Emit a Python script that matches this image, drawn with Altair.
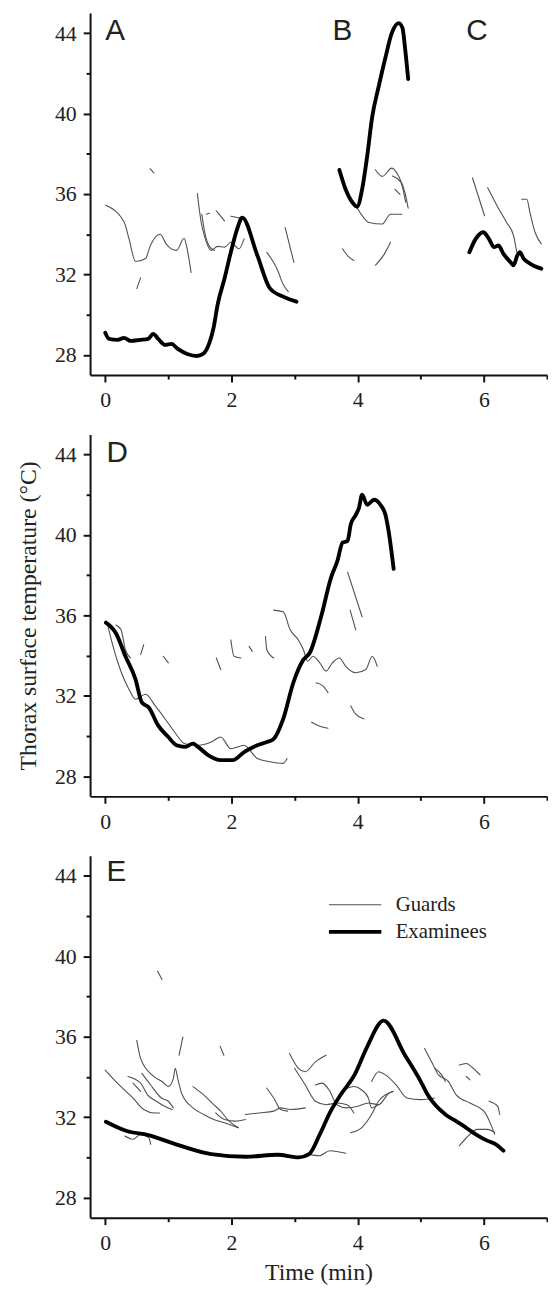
import altair as alt
import pandas as pd

X_DOMAIN = [-0.24, 7]
Y_DOMAIN = [27, 45]
x_tick_values = [0, 1, 2, 3, 4, 5, 6, 7]
y_tick_values = [28, 30, 32, 34, 36, 38, 40, 42, 44]
groups = ["Guards", "Examinees"]
x_title = "Time (min)"
y_title = "Thorax surface temperature (°C)"

# ---------- Panels A, B, C (top) ----------
exam_A = [(0.0, 29.1), (0.06, 28.8), (0.2, 28.75), (0.3, 28.85), (0.4, 28.7), (0.55, 28.75),
          (0.68, 28.8), (0.76, 29.05), (0.84, 28.8), (0.95, 28.5), (1.05, 28.55), (1.15, 28.3),
          (1.3, 28.05), (1.45, 27.95), (1.55, 28.05), (1.65, 28.6), (1.72, 29.4), (1.78, 30.49),
          (1.89, 31.8), (1.99, 33.11), (2.09, 34.26), (2.17, 34.83), (2.41, 32.95), (2.61, 31.31),
          (2.82, 30.9), (3.03, 30.65)]
exam_B = [(3.71, 37.2), (3.81, 36.23), (3.92, 35.57), (3.99, 35.37), (4.07, 36.23), (4.15, 37.87),
          (4.23, 39.84), (4.33, 41.31), (4.44, 42.79), (4.54, 44.0), (4.65, 44.5), (4.71, 44.26),
          (4.75, 43.28), (4.80, 41.72)]
exam_C = [(5.77, 33.11), (5.87, 33.77), (5.99, 34.1), (6.08, 33.77), (6.16, 33.36), (6.23, 33.44),
          (6.31, 33.03), (6.42, 32.62), (6.47, 32.46), (6.53, 32.95), (6.57, 33.11), (6.63, 32.79),
          (6.73, 32.54), (6.91, 32.29)]

guards_top = [
    [(0.01, 35.44), (0.30, 34.6), (0.375, 33.8), (0.48, 32.65), (0.64, 32.8), (0.71, 33.4),
     (0.87, 34.0), (0.97, 33.5), (1.13, 33.2), (1.25, 33.8), (1.29, 33.4), (1.36, 32.1)],
    [(0.71, 37.26), (0.77, 37.05)],
    [(0.50, 31.3), (0.56, 31.83)],
    [(1.46, 36.03), (1.52, 34.6), (1.57, 33.93), (1.68, 33.2), (1.78, 33.4), (1.89, 33.36),
     (1.99, 33.6), (2.12, 33.28), (2.2, 33.77)],
    [(1.53, 35.0), (1.57, 34.2), (1.65, 33.4), (1.73, 33.2)],
    [(1.6, 35.0), (1.65, 35.05)],
    [(1.76, 35.16), (1.89, 34.67)],
    [(1.99, 34.9), (2.15, 34.8)],
    [(2.56, 33.1), (2.72, 32.3), (2.82, 31.5), (2.90, 31.15)],
    [(2.85, 34.34), (2.99, 32.6)],
    [(3.99, 35.32), (4.18, 34.59), (4.39, 34.51), (4.52, 35.0), (4.70, 35.0)],
    [(4.28, 37.21), (4.39, 36.88), (4.54, 37.29), (4.65, 36.88), (4.75, 36.06), (4.80, 35.3)],
    [(4.55, 36.9), (4.68, 36.6), (4.76, 35.6)],
    [(4.59, 36.23), (4.67, 35.98)],
    [(3.76, 33.28), (3.85, 32.9), (3.94, 32.7)],
    [(4.28, 32.46), (4.42, 33.0), (4.52, 33.6)],
    [(5.82, 36.8), (6.01, 34.92)],
    [(6.06, 36.31), (6.21, 35.41), (6.36, 34.59), (6.47, 33.93), (6.52, 33.11)],
    [(6.6, 35.74), (6.68, 35.74), (6.73, 35.08), (6.81, 34.1), (6.91, 33.52)],
]

# ---------- Panel D (middle) ----------
exam_D = [(0.01, 35.64), (0.17, 35.11), (0.32, 33.97), (0.48, 32.82), (0.58, 31.67), (0.69, 31.42),
          (0.84, 30.52), (1.0, 29.95), (1.13, 29.54), (1.26, 29.46), (1.39, 29.62), (1.47, 29.46),
          (1.63, 29.05), (1.83, 28.8), (2.02, 28.8), (2.2, 29.2), (2.41, 29.54), (2.56, 29.7),
          (2.67, 29.86), (2.82, 30.85), (2.98, 32.65), (3.14, 33.8), (3.24, 34.13), (3.42, 35.93),
          (3.58, 37.9), (3.68, 38.72), (3.76, 39.62), (3.84, 39.7), (3.89, 40.52), (3.97, 41.0),
          (4.02, 41.34), (4.07, 42.0), (4.15, 41.5), (4.26, 41.75), (4.36, 41.5), (4.44, 41.0),
          (4.49, 40.19), (4.57, 38.31)]
guards_D = [
    [(0.04, 35.52), (0.11, 34.62), (0.22, 33.47), (0.375, 32.33), (0.48, 31.83), (0.64, 32.08),
     (0.79, 31.51), (0.95, 30.85), (1.1, 30.19), (1.26, 29.62), (1.47, 29.54), (1.68, 29.7),
     (1.83, 29.95), (1.99, 29.37), (2.2, 29.54), (2.41, 28.88), (2.61, 28.72), (2.82, 28.64),
     (2.88, 28.88)],
    [(0.17, 35.52), (0.25, 35.28), (0.32, 34.29), (0.40, 33.88)],
    [(0.56, 34.05), (0.61, 34.54)],
    [(0.92, 33.97), (1.0, 33.64)],
    [(1.76, 33.88), (1.83, 33.31)],
    [(1.99, 34.78), (2.04, 33.97), (2.15, 33.88)],
    [(2.28, 34.46), (2.33, 34.21)],
    [(2.54, 34.95), (2.56, 34.29), (2.67, 33.88)],
    [(2.67, 36.26), (2.82, 36.18), (2.93, 35.28), (3.06, 34.78), (3.14, 34.29), (3.21, 33.72),
     (3.29, 33.97), (3.40, 33.64), (3.5, 33.23), (3.6, 33.64), (3.71, 33.88), (3.81, 33.47),
     (3.97, 33.15), (4.13, 33.31), (4.23, 33.97), (4.31, 33.47)],
    [(3.84, 38.15), (4.07, 35.93)],
    [(3.88, 36.26), (3.97, 35.28)],
    [(3.34, 32.65), (3.45, 32.49), (3.53, 32.16)],
    [(3.27, 30.69), (3.40, 30.49), (3.53, 30.39)],
    [(3.89, 31.5), (3.97, 31.09), (4.10, 30.85)],
]

# ---------- Panel E (bottom) ----------
exam_E = [(0.01, 31.77), (0.34, 31.31), (0.68, 31.11), (1.12, 30.65), (1.68, 30.16), (2.23, 30.03),
          (2.73, 30.13), (3.07, 30.0), (3.23, 30.16), (3.40, 31.14), (3.57, 32.29), (3.73, 33.11),
          (3.95, 34.1), (4.15, 35.5), (4.41, 36.8), (4.75, 35.08), (5.0, 33.77), (5.11, 33.11),
          (5.39, 32.13), (5.56, 31.8), (5.72, 31.47), (5.89, 31.11), (6.06, 30.82), (6.19, 30.65),
          (6.31, 30.33)]
guards_E = [
    [(0.83, 39.26), (0.90, 38.85)],
    [(1.17, 35.08), (1.23, 35.98)],
    [(1.82, 35.53), (1.88, 35.08)],
    [(0.5, 35.82), (0.56, 34.92), (0.74, 34.1), (0.9, 33.77), (1.0, 33.52), (1.08, 33.93),
     (1.11, 34.43), (1.15, 33.9), (1.22, 33.11), (1.39, 32.46), (1.56, 32.13), (1.72, 31.88),
     (1.89, 31.72), (2.11, 31.47)],
    [(0.0, 34.34), (0.22, 33.6), (0.44, 32.95), (0.61, 32.38), (0.78, 32.21), (0.86, 32.21)],
    [(0.36, 34.02), (0.56, 33.69), (0.67, 33.11), (0.81, 32.79), (0.94, 32.54), (1.06, 32.38)],
    [(0.44, 33.69), (0.56, 33.28)],
    [(0.58, 34.18), (0.72, 33.6), (0.89, 32.95), (1.0, 32.79), (1.08, 32.46)],
    [(1.39, 33.52), (1.56, 33.11), (1.72, 32.62), (1.83, 32.3), (1.94, 31.88), (2.11, 31.47)],
    [(0.31, 31.06), (0.44, 30.9), (0.56, 31.14), (0.69, 30.98), (0.72, 30.65)],
    [(1.75, 32.21), (1.89, 31.88), (2.06, 31.8), (2.22, 31.88)],
    [(2.22, 32.13), (2.44, 32.21), (2.67, 32.3), (2.78, 32.46), (2.94, 32.38), (3.17, 32.46)],
    [(2.56, 33.44), (2.67, 32.95), (2.78, 32.38), (2.89, 32.3)],
    [(2.92, 35.16), (3.06, 34.43), (3.17, 34.26), (3.33, 34.75), (3.5, 35.08)],
    [(3.0, 34.43), (3.17, 33.6), (3.33, 32.79), (3.5, 32.62), (3.67, 32.7), (3.83, 32.62),
     (3.94, 32.21)],
    [(3.33, 33.6), (3.44, 33.69), (3.56, 33.28), (3.67, 32.62), (3.83, 32.46), (4.0, 32.54),
     (4.17, 32.7), (4.33, 32.62), (4.5, 33.2), (4.56, 33.28)],
    [(3.22, 30.16), (3.39, 30.08), (3.56, 30.33), (3.81, 30.2)],
    [(3.83, 33.44), (3.94, 33.52), (4.06, 33.36), (4.17, 32.95), (4.22, 32.46), (4.33, 32.62)],
    [(3.89, 31.23), (4.06, 31.47), (4.22, 32.13), (4.33, 32.79), (4.44, 33.11), (4.56, 33.28)],
    [(4.22, 33.77), (4.33, 34.26), (4.44, 34.1), (4.61, 33.6), (4.78, 32.95), (5.0, 32.87),
     (5.22, 32.95)],
    [(5.06, 35.41), (5.17, 34.75), (5.28, 34.1), (5.44, 33.77), (5.56, 33.11), (5.78, 32.7),
     (6.0, 32.3), (6.11, 31.64), (6.17, 31.15)],
    [(5.22, 34.43), (5.33, 34.1), (5.39, 33.77)],
    [(5.61, 34.59), (5.72, 34.67), (5.83, 34.43), (5.94, 34.1)],
    [(5.72, 34.02), (5.78, 33.85)],
    [(6.08, 32.79), (6.22, 32.54), (6.25, 32.13)],
    [(5.61, 30.57), (5.78, 31.15), (5.89, 31.39), (6.06, 31.39), (6.17, 31.23)],
]

# panel letters: (label, time, temperature at the top of the letter box)
labels_top = [("A", 0.0, 44.86), ("B", 3.6, 44.86), ("C", 5.72, 44.86)]
labels_mid = [("D", 0.02, 44.82)]
labels_bot = [("E", 0.02, 44.92)]

PANEL_W = 462
PANEL_H = 366
SERIF = "Liberation Serif, Times New Roman, serif"


def build_df(exam_segs, guard_segs):
    rows = []
    for i, seg in enumerate(guard_segs):
        for t, v in seg:
            rows.append({"t": t, "temp": v, "grp": "Guards", "seg": f"g{i}"})
    for i, seg in enumerate(exam_segs):
        for t, v in seg:
            rows.append({"t": t, "temp": v, "grp": "Examinees", "seg": f"e{i}"})
    return pd.DataFrame(rows)


def make_panel(exam_segs, guard_segs, letters, show_legend=False, ytitle=None, xtitle=None):
    df = build_df(exam_segs, guard_segs)
    xaxis = alt.Axis(
        values=x_tick_values, format="d",
        labelExpr="datum.value % 2 === 0 ? datum.label : ''",
        tickSize={"condition": {"test": "datum.value % 2 === 0", "value": 7}, "value": 4},
        labelPadding=8, labelFont=SERIF, labelFontSize=22, labelColor="#222",
        title=xtitle, titlePadding=8, titleFont=SERIF, titleFontSize=24,
        titleFontWeight="normal", titleColor="#222",
    )
    yaxis = alt.Axis(
        values=y_tick_values, format="d",
        labelExpr="datum.value % 4 === 0 ? datum.label : ''",
        tickSize={"condition": {"test": "datum.value % 4 === 0", "value": 7}, "value": 4},
        labelPadding=7, labelFont=SERIF, labelFontSize=22, labelColor="#222",
        title=ytitle, titlePadding=14, titleFont=SERIF, titleFontSize=24,
        titleFontWeight="normal", titleColor="#222",
    )
    x = alt.X("t:Q", scale=alt.Scale(domain=X_DOMAIN, nice=False, zero=False), axis=xaxis)
    y = alt.Y("temp:Q", scale=alt.Scale(domain=Y_DOMAIN, nice=False, zero=False), axis=yaxis)
    if show_legend:
        legend = alt.Legend(
            orient="none", legendX=257, legendY=39, title=None,
            symbolType="M-3,0H3", symbolSize=312, labelOffset=30, rowPadding=6, padding=0,
            labelFont=SERIF, labelFontSize=21, labelColor="#222",
        )
    else:
        legend = None
    lines = alt.Chart(df).mark_line(interpolate="monotone", strokeCap="round", strokeJoin="round").encode(
        x=x,
        y=y,
        color=alt.Color("grp:N", scale=alt.Scale(domain=groups, range=["#505050", "#000000"]), legend=legend),
        strokeWidth=alt.StrokeWidth("grp:N", scale=alt.Scale(domain=groups, range=[1.1, 3.9]), legend=legend),
        detail="seg:N",
    )
    ldf = pd.DataFrame(letters, columns=["label", "t", "temp"])
    text = alt.Chart(ldf).mark_text(
        font="Liberation Sans", fontSize=30, align="left", baseline="top", color="#222"
    ).encode(x="t:Q", y="temp:Q", text="label:N")
    return alt.layer(lines, text).properties(width=PANEL_W, height=PANEL_H)


top = make_panel([exam_A, exam_B, exam_C], guards_top, labels_top)
mid = make_panel([exam_D], guards_D, labels_mid, ytitle=y_title)
bot = make_panel([exam_E], guards_E, labels_bot, show_legend=True, xtitle=x_title)

chart = (
    alt.vconcat(top, mid, bot, spacing=24)
    .resolve_scale(color="independent", strokeWidth="independent")
    .properties(padding={"left": 9, "top": -2, "right": 0, "bottom": 0})
    .configure_view(stroke=None)
    .configure_axis(domainColor="#111", domainWidth=2, tickColor="#111", tickWidth=2, grid=False)
)

chart.save("out.html", embed_options={"renderer": "svg", "actions": False})
